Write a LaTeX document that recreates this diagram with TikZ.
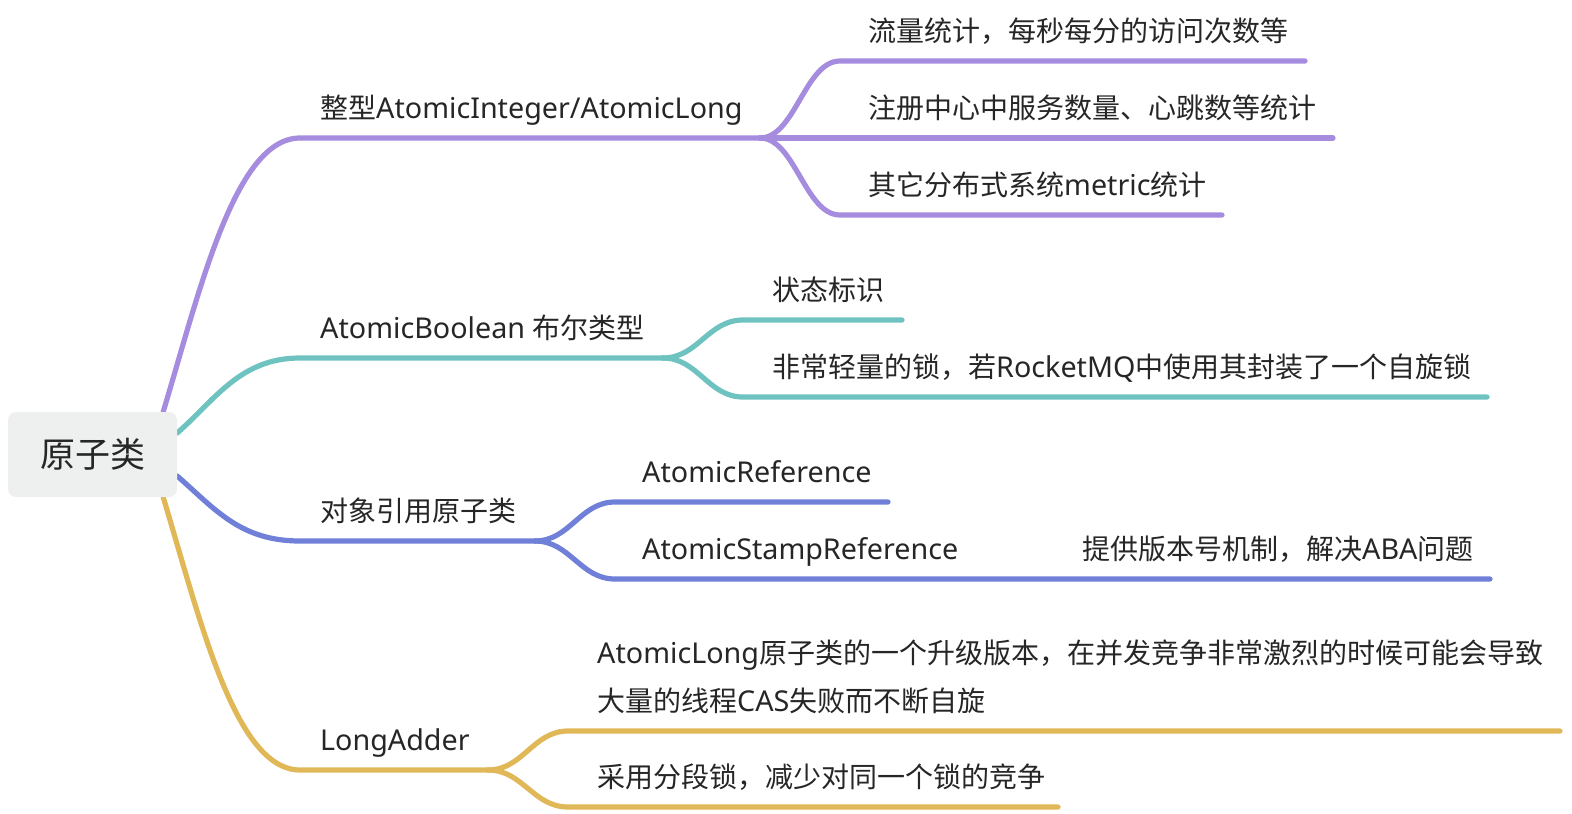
\documentclass[tikz,border=0pt]{standalone}
\usepackage{fontspec}
\setmainfont{Noto Sans CJK SC}
\newfontfamily\lat[Scale=1.025]{Noto Sans}
\usetikzlibrary{backgrounds}
\definecolor{cpurple}{HTML}{A68CDF}
\definecolor{cteal}{HTML}{6EC2C0}
\definecolor{cblue}{HTML}{7080D8}
\definecolor{cgold}{HTML}{E0B858}
\definecolor{rootfill}{HTML}{EEF0EF}
\definecolor{txt}{HTML}{262626}
\newcommand{\lt}[1]{{\lat #1}}
\begin{document}
\begin{tikzpicture}[x=1pt,y=-1pt,
  lbl/.style={anchor=base west,inner sep=0pt,text=txt,font=\fontsize{28}{48}\selectfont},
  rootbox/.style={fill=rootfill,rounded corners=8pt,minimum width=169pt,minimum height=85pt,inner sep=0pt,text=txt,font=\fontsize{35}{40}\selectfont},
  br/.style={line width=5.2pt,line cap=round}]
\useasboundingbox (0,0) rectangle (1572,814);
\node[rootbox] (root) at (92.5,454.5) {原子类};
% purple
\node[lbl] (p) at (320,118.5) {整型\lt{AtomicInteger/AtomicLong}};
\node[lbl] (p1) at (868,41.5) {流量统计，每秒每分的访问次数等};
\node[lbl] (p2) at (868,118.5) {注册中心中服务数量、心跳数等统计};
\node[lbl] (p3) at (868,195.5) {其它分布式系统\lt{metric}统计};
% teal
\node[lbl] (t) at (320,338.5) {\lt{AtomicBoolean }布尔类型};
\node[lbl] (t1) at (772,300.5) {状态标识};
\node[lbl] (t2) at (772,377.5) {非常轻量的锁，若\lt{RocketMQ}中使用其封装了一个自旋锁};
% blue
\node[lbl] (b) at (320,521.5) {对象引用原子类};
\node[lbl] (b1) at (642,482.5) {\lt{AtomicReference}};
\node[lbl] (b2) at (642,559.5) {\lt{AtomicStampReference}};
\node[lbl] (b3) at (1082,559.5) {提供版本号机制，解决\lt{ABA}问题};
% gold
\node[lbl] (g) at (320,750.5) {\lt{LongAdder}};
\node[lbl,align=left] (g1) at (597,711.5) {\lt{AtomicLong}原子类的一个升级版本，在并发竞争非常激烈的时候可能会导致\\大量的线程\lt{CAS}失败而不断自旋};
\node[lbl] (g2) at (597,787.5) {采用分段锁，减少对同一个锁的竞争};
% coordinates
\coordinate (pA) at ([xshift=-14pt]root.north east);
\coordinate (tA) at ([yshift=21.5pt]root.east);
\coordinate (bA) at ([yshift=-21.5pt]root.east);
\coordinate (gA) at ([xshift=-14pt]root.south east);
\coordinate (pJ) at (760,138);
\coordinate (tJ) at (663,358);
\coordinate (bJ) at (535,541);
\coordinate (gJ) at (488,770);
\begin{pgfonlayer}{background}
\draw[br,cpurple] (pA) .. controls (200,290) and (235,138) .. (300,138) -- (pJ);
\draw[br,cpurple] (pJ) .. controls (795,138) and (805,61) .. (840,61) -- (1305,61);
\draw[br,cpurple] (pJ) -- (1333,138);
\draw[br,cpurple] (pJ) .. controls (795,138) and (805,215) .. (840,215) -- (1222,215);
\draw[br,cteal] (tA) .. controls (215,400) and (240,358) .. (300,358) -- (tJ);
\draw[br,cteal] (tJ) .. controls (698,358) and (708,320) .. (743,320) -- (902,320);
\draw[br,cteal] (tJ) .. controls (698,358) and (708,397) .. (743,397) -- (1487,397);
\draw[br,cblue] (bA) .. controls (215,509) and (240,541) .. (300,541) -- (bJ);
\draw[br,cblue] (bJ) .. controls (570,541) and (580,502) .. (615,502) -- (888,502);
\draw[br,cblue] (bJ) .. controls (570,541) and (580,579) .. (615,579) -- (1490,579);
\draw[br,cgold] (gA) .. controls (200,619) and (235,770) .. (300,770) -- (gJ);
\draw[br,cgold] (gJ) .. controls (523,770) and (533,731) .. (568,731) -- (1560,731);
\draw[br,cgold] (gJ) .. controls (523,770) and (533,807) .. (568,807) -- (1058,807);
\end{pgfonlayer}
\end{tikzpicture}
\end{document}
